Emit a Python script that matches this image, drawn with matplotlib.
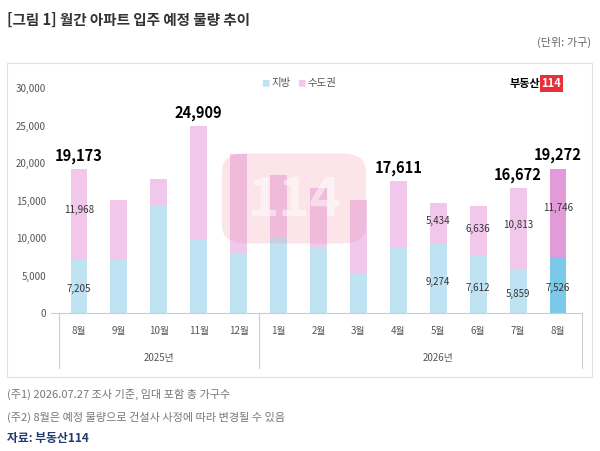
import numpy as np
import matplotlib.pyplot as plt
from matplotlib.patches import FancyBboxPatch

plt.rcParams['font.family'] = ['Noto Sans CJK KR', 'DejaVu Sans']

months = ['8월', '9월', '10월', '11월', '12월', '1월', '2월', '3월', '4월', '5월', '6월', '7월', '8월']
local = [7205, 7300, 14300, 9900, 8000, 10100, 8800, 5300, 8800, 9274, 7612, 5859, 7526]
capital = [11968, 7800, 3600, 15009, 13200, 8300, 7900, 9800, 8811, 5434, 6636, 10813, 11746]
totals_shown = {0: '19,173', 3: '24,909', 8: '17,611', 11: '16,672', 12: '19,272'}
seg_labels = {0: ('7,205', '11,968'), 9: ('9,274', '5,434'), 10: ('7,612', '6,636'),
              11: ('5,859', '10,813'), 12: ('7,526', '11,746')}

fig = plt.figure(figsize=(6, 4.51), dpi=100)
fig.patch.set_facecolor('white')
ax = fig.add_axes([0.085, 0.305, 0.885, 0.50])

x = np.arange(len(months))
cl = ['#bfe3f3'] * 12 + ['#7cc8e8']
cc = ['#f1c8ec'] * 12 + ['#e39ad8']
ax.bar(x, local, width=0.42, color=cl)
ax.bar(x, capital, width=0.42, bottom=local, color=cc)

for i, t in totals_shown.items():
    ax.text(i, local[i] + capital[i] + 700, t, ha='center', va='bottom', fontsize=10.5, fontweight='bold')
for i, (a, b) in seg_labels.items():
    ax.text(i, local[i] * 0.45, a, ha='center', va='center', fontsize=7, color='#333333')
    ax.text(i, local[i] + capital[i] * 0.55, b, ha='center', va='center', fontsize=7, color='#333333')

ax.set_ylim(0, 30000)
ax.set_xlim(-0.7, 12.6)
ax.set_yticks(range(0, 30001, 5000))
ax.set_yticklabels([f'{v:,}' for v in range(0, 30001, 5000)], fontsize=7, color='#555555')
ax.set_xticks([])
for s in ['top', 'right', 'left']:
    ax.spines[s].set_visible(False)
ax.spines['bottom'].set_color('#cccccc')
ax.tick_params(axis='y', length=0)

# month labels and year groups
for i, m in enumerate(months):
    ax.text(i, -2300, m, ha='center', va='center', fontsize=7, color='#555555')
ax.text(2, -5900, '2025년', ha='center', va='center', fontsize=7, color='#555555')
ax.text(9, -5900, '2026년', ha='center', va='center', fontsize=7, color='#555555')
for xv in [-0.5, 4.5, 12.6]:
    ax.plot([xv, xv], [0, -7300], color='#cccccc', lw=0.8, clip_on=False)

# watermark
wm = FancyBboxPatch((0.38, 0.47), 0.22, 0.18, boxstyle='round,pad=0.01,rounding_size=0.04',
                    transform=fig.transFigure, facecolor='#f08a9a', alpha=0.22, edgecolor='none')
fig.patches.append(wm)
fig.text(0.49, 0.555, '114', ha='center', va='center', fontsize=38, color='white', alpha=0.5, fontweight='bold')

# frame
frame = plt.Rectangle((0.012, 0.165), 0.975, 0.695, transform=fig.transFigure, fill=False, edgecolor='#e0e0e0', lw=0.8)
fig.patches.append(frame)

fig.text(0.012, 0.955, '[그림 1] 월간 아파트 입주 예정 물량 추이', fontsize=10.5, fontweight='bold', color='#333333', va='center')
fig.text(0.985, 0.905, '(단위: 가구)', fontsize=8, color='#666666', ha='right', va='center')
fig.text(0.435, 0.815, '■', fontsize=6, color='#bfe3f3', va='center')
fig.text(0.452, 0.815, '지방', fontsize=7.5, color='#555555', va='center')
fig.text(0.495, 0.815, '■', fontsize=6, color='#f1c8ec', va='center')
fig.text(0.512, 0.815, '수도권', fontsize=7.5, color='#555555', va='center')
fig.text(0.9, 0.815, '부동산', fontsize=8, fontweight='bold', ha='right', va='center')
fig.text(0.902, 0.815, '114', fontsize=8, fontweight='bold', color='white', va='center',
         bbox=dict(boxstyle='square,pad=0.15', facecolor='#e8303a', edgecolor='none'))

fig.text(0.012, 0.125, '(주1) 2026.07.27 조사 기준, 임대 포함 총 가구수', fontsize=8, color='#777777', va='center')
fig.text(0.012, 0.075, '(주2) 8월은 예정 물량으로 건설사 사정에 따라 변경될 수 있음', fontsize=8, color='#777777', va='center')
fig.text(0.012, 0.028, '자료: 부동산114', fontsize=8.5, color='#1f3a6e', fontweight='bold', va='center')

fig.savefig('out.png', dpi=100)
